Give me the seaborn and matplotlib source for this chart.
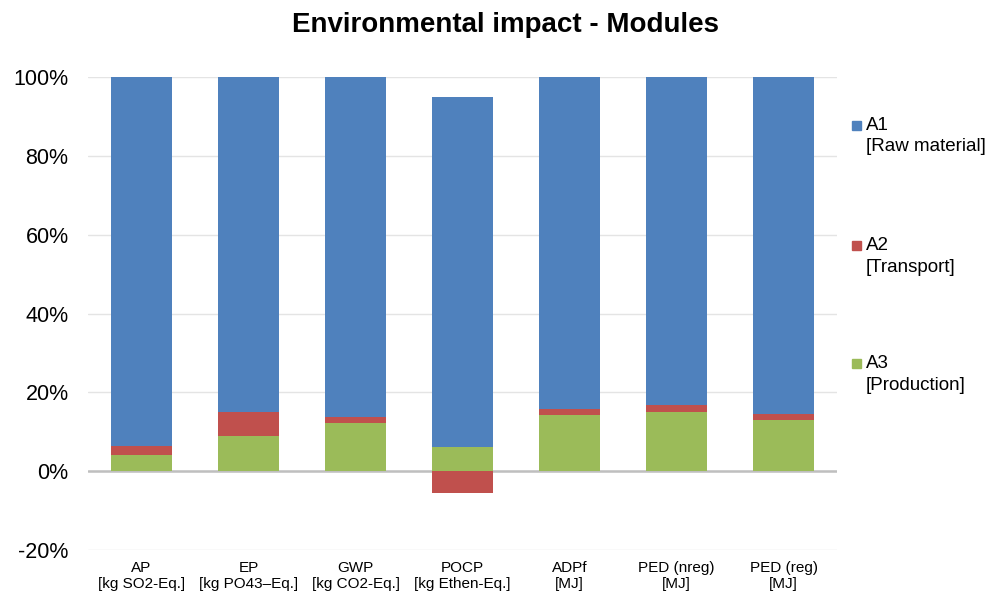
import numpy as np
import pandas as pd
import seaborn as sns
import matplotlib.pyplot as plt
from matplotlib.patches import Rectangle

categories = ["AP\n[kg SO2-Eq.]", "EP\n[kg PO43\u2013Eq.]", "GWP\n[kg CO2-Eq.]",
              "POCP\n[kg Ethen-Eq.]", "ADPf\n[MJ]", "PED (nreg)\n[MJ]", "PED (reg)\n[MJ]"]
a1_raw = [93.7, 85.1, 86.3, 88.8, 84.1, 83.3, 85.6]
a2_transport = [2.2, 6.0, 1.6, -5.5, 1.7, 1.6, 1.3]
a3_production = [4.1, 8.9, 12.1, 6.1, 14.2, 15.1, 13.1]
y_ticks = [-20, 0, 20, 40, 60, 80, 100]

series = [
    ("A3", "[Production]", a3_production, "#9BBB59"),
    ("A2", "[Transport]", a2_transport, "#C0504D"),
    ("A1", "[Raw material]", a1_raw, "#4F81BD"),
]

sns.set_style("white")
plt.rcParams['font.family'] = ['Liberation Sans', 'DejaVu Sans']
plt.rcParams['text.color'] = 'black'
plt.rcParams['xtick.color'] = 'black'
plt.rcParams['ytick.color'] = 'black'

fig = plt.figure(figsize=(10.05, 5.98), dpi=100)
ax = fig.add_axes([0.0876, 0.0803, 0.7454, 0.7907])

# excel style stacking: positives upwards, negatives downwards
pos_base = np.zeros(len(categories))
neg_base = np.zeros(len(categories))
for name, desc, vals, col in series:
    vals = np.array(vals)
    bottoms = np.where(vals >= 0, pos_base, neg_base)
    df = pd.DataFrame({"cat": categories, "val": vals})
    sns.barplot(data=df, x="cat", y="val", bottom=bottoms, color=col,
                saturation=1, width=0.57, errorbar=None, ax=ax, zorder=3,
                linewidth=0)
    pos_base = pos_base + np.where(vals >= 0, vals, 0)
    neg_base = neg_base + np.where(vals < 0, vals, 0)

ax.set_ylim(-20, 100)
ax.set_xlim(-0.5, len(categories) - 0.5)
ax.set_yticks(y_ticks)
ax.set_yticklabels([f"{t}%" for t in y_ticks], fontsize=15.5)
ax.tick_params(axis='y', length=0, pad=14)
ax.tick_params(axis='x', length=0, pad=8, labelsize=11)
ax.set_xlabel("")
ax.set_ylabel("")
ax.yaxis.grid(True, color="#E4E4E4", lw=1, zorder=0)
ax.axhline(0, color="#BFBFBF", lw=1.8, zorder=2)
for s in ax.spines.values():
    s.set_visible(False)

fig.suptitle("Environmental impact - Modules", fontsize=20, fontweight="bold",
             x=0.503, y=0.98)

# legend: square aligned with the first text line
leg_y = [125, 245, 363]
for (name, desc, vals, col), yp in zip(series[::-1], leg_y):
    fy = 1 - yp / 598
    fig.add_artist(Rectangle((852 / 1005, fy - 4.5 / 598), 9 / 1005, 9 / 598,
                             transform=fig.transFigure, color=col))
    fig.text(866 / 1005, fy, name, fontsize=13.5, va="center", ha="left")
    fig.text(866 / 1005, fy - 22 / 598, desc, fontsize=13.5, va="center", ha="left")

fig.savefig("out.png", dpi=100)
